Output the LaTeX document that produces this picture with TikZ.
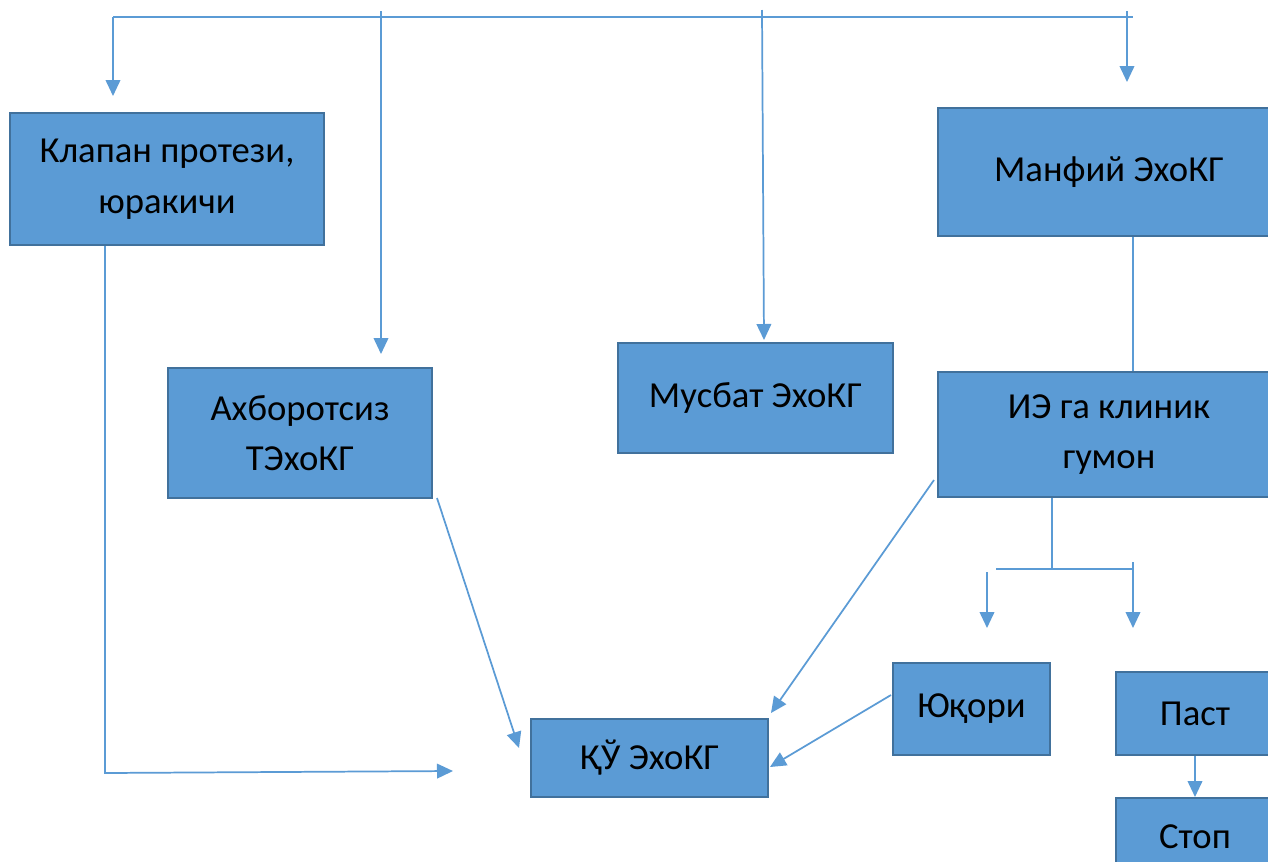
\documentclass[tikz,border=0pt]{standalone}
\usepackage{fontspec}
\setmainfont{Carlito}
\usetikzlibrary{arrows.meta}
\definecolor{boxfill}{HTML}{5B9BD5}
\definecolor{boxline}{HTML}{41719C}
\definecolor{conn}{HTML}{5B9BD5}
\tikzset{
  box/.style={draw=boxline, line width=1.5pt, fill=boxfill, align=center, inner sep=0pt,
    font=\fontsize{27.5}{38}\selectfont, text=black},
  conn/.style={draw=conn, line width=1.3pt},
  arr/.style={conn, -{Triangle[width=11pt,length=12pt]}}
}
\begin{document}
\begin{tikzpicture}[x=0.75pt,y=-0.75pt]
\clip (0,0) rectangle (1268,861);
\fill[white] (0,0) rectangle (1268,861);
% boxes
\node[box, minimum width=235.5pt, minimum height=99pt] (klapan) at (167,179) {Клапан протези,\\юракичи};
\node[box, minimum width=256.5pt, minimum height=96pt] (manfiy) at (1109,172) {Манфий ЭхоКГ};
\node[box, minimum width=198pt, minimum height=97.5pt] (akh) at (300,433) {Ахборотсиз\\ТЭхоКГ};
\node[box, minimum width=206.25pt, minimum height=82.5pt] (musbat) at (755.5,398) {Мусбат ЭхоКГ};
\node[box, minimum width=256.5pt, minimum height=93.75pt] (ie) at (1109,434.5) {ИЭ га клиник\\гумон};
\node[box, minimum width=117.75pt, minimum height=69pt] (yuqori) at (971.5,709) {Юқори};
\node[box, minimum width=118.5pt, minimum height=62.25pt] (past) at (1195,713.5) {Паст};
\node[box, minimum width=118.5pt, minimum height=58.5pt] (stop) at (1195,837) {Стоп};
\node[box, minimum width=177.75pt, minimum height=58.5pt] (qu) at (649.5,758) {ҚЎ ЭхоКГ};
% top distribution line
\coordinate (tl) at (113,17);
\coordinate (tr) at (1133,17);
\coordinate (t1) at (113,96);
\coordinate (s2) at (381,11);
\coordinate (t2) at (381,354);
\coordinate (s3) at (762,10);
\coordinate (t3) at (764,340);
\coordinate (s4) at (1127,11);
\coordinate (t4) at (1127,82);
\draw[conn] (tl) -- (tr);
\draw[arr] (tl) -- (t1);
\draw[arr] (s2) -- (t2);
\draw[arr] (s3) -- (t3);
\draw[arr] (s4) -- (t4);
% manfiy -> ie
\draw[conn] (manfiy.south -| 1133,0) -- (ie.north -| 1133,0);
% ie branch
\coordinate (b0) at (1052,569);
\coordinate (bl) at (996,569);
\coordinate (br) at (1133,569);
\coordinate (s5) at (987,572);
\coordinate (t5) at (987,628);
\coordinate (s6) at (1133,562);
\coordinate (t6) at (1133,628);
\draw[conn] (ie.south -| b0) -- (b0);
\draw[conn] (bl) -- (br);
\draw[arr] (s5) -- (t5);
\draw[arr] (s6) -- (t6);
% to qu
\coordinate (k1) at (105,773);
\coordinate (k2) at (453,771);
\draw[arr] (klapan.south -| k1) -- (k1) -- (k2);
\coordinate (a1) at (437,498);
\coordinate (a2) at (519,748);
\draw[arr] (a1) -- (a2);
\coordinate (e1) at (934,480);
\coordinate (e2) at (771,713);
\draw[arr] (e1) -- (e2);
\coordinate (y1) at (891,695);
\coordinate (y2) at (770,767);
\draw[arr] (y1) -- (y2);
\draw[arr] (past.south) -- (stop.north);
\end{tikzpicture}
\end{document}
